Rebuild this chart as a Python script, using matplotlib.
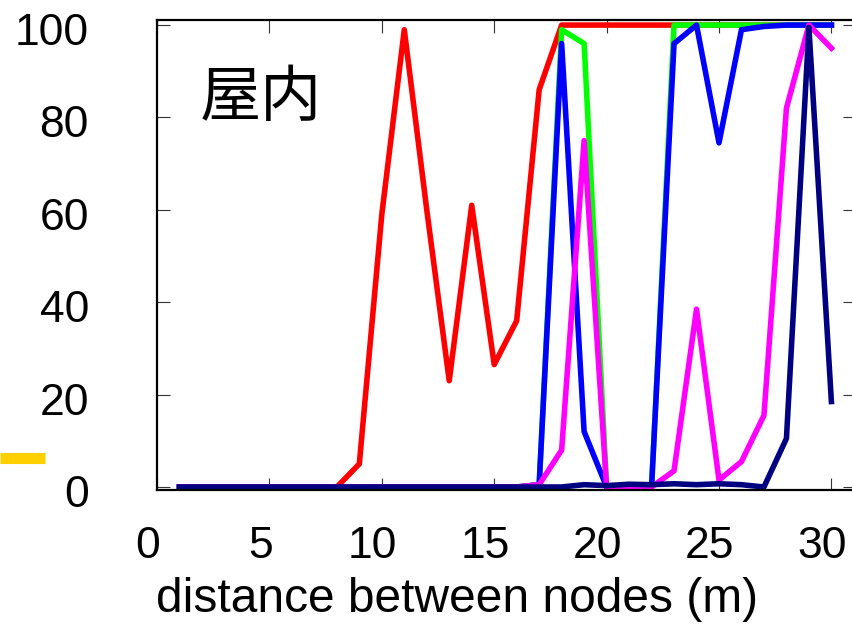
import matplotlib.pyplot as plt
import matplotlib.transforms as mtransforms
from matplotlib.lines import Line2D

# distance between nodes (m)
dist = list(range(1, 31))

# reception rate (%) per series
red = [0, 0, 0, 0, 0, 0, 0, 0, 5, 59, 99, 60, 23, 61, 26.5, 36, 86, 100,
       100, 100, 100, 100, 100, 100, 100, 100, 100, 100, 100, 100]
green = [0, 0, 0, 0, 0, 0, 0, 0, 0, 0, 0, 0, 0, 0, 0, 0, 0.5, 99,
         96, 0, 0, 0, 100, 100, 100, 100, 100, 100, 100, 100]
blue = [0, 0, 0, 0, 0, 0, 0, 0, 0, 0, 0, 0, 0, 0, 0, 0, 0.5, 96,
        12, 0, 0, 0, 96, 100, 74.5, 99, 99.7, 100, 100, 100]
magenta = [0, 0, 0, 0, 0, 0, 0, 0, 0, 0, 0, 0, 0, 0, 0, 0, 0.5, 8,
           75, 0, 0, 0, 3.5, 38.5, 1.5, 5.5, 15.5, 82, 100, 95]
navy = [0, 0, 0, 0, 0, 0, 0, 0, 0, 0, 0, 0, 0, 0, 0, 0, 0, 0,
        0.5, 0.3, 0.6, 0.5, 0.7, 0.5, 0.7, 0.5, 0, 10.5, 99.5, 18.5]

series = [(red, '#ff0000'), (green, '#00ff00'), (blue, '#0000ff'),
          (magenta, '#ff00ff'), (navy, '#000080')]

xticks = [0, 5, 10, 15, 20, 25, 30]
yticks = [0, 20, 40, 60, 80, 100]

plt.rcParams['font.family'] = ['Liberation Sans', 'DejaVu Sans']

fig = plt.figure(figsize=(8.52, 6.24), dpi=100)
# the plot runs past the right edge of the picture, as in the reference
ax = fig.add_axes([157 / 852, 134 / 624, 698 / 852, 470 / 624])

for vals, col in series:
    ax.plot(dist, vals, color=col, lw=4.0, solid_joinstyle='round')

ax.set_xlim(0, 31.05)
ax.set_ylim(-0.65, 101.1)
ax.set_xticks(xticks)
ax.set_yticks(yticks)
ax.tick_params(direction='in', length=9, width=0.8, color='#333333',
               top=True, right=True, labelsize=32)
ax.tick_params(axis='x', pad=26)
ax.tick_params(axis='y', pad=49)
for sp in ax.spines.values():
    sp.set_linewidth(1.6)

off_x = mtransforms.ScaledTranslation(-9 / 100, 0, fig.dpi_scale_trans)
for lab in ax.get_xticklabels():
    lab.set_transform(lab.get_transform() + off_x)
off_y = mtransforms.ScaledTranslation(0, -4 / 100, fig.dpi_scale_trans)
for lab in ax.get_yticklabels():
    lab.set_transform(lab.get_transform() + off_y)

fig.text(457.5 / 852, 12 / 624, 'distance between nodes (m)', fontsize=34.5,
         ha='center', va='baseline')
fig.text(260.5 / 852, 1 - 98.5 / 624, '屋内', fontsize=44, ha='center',
         va='center', family=['Noto Sans CJK JP', 'DejaVu Sans'])

# fragment of a neighbouring legend entry at the left edge
fig.add_artist(Line2D([0, 45 / 852], [1 - 457.5 / 624] * 2, color='#ffd000',
                      lw=8, solid_capstyle='butt', transform=fig.transFigure))

fig.savefig('out.png', dpi=100)
